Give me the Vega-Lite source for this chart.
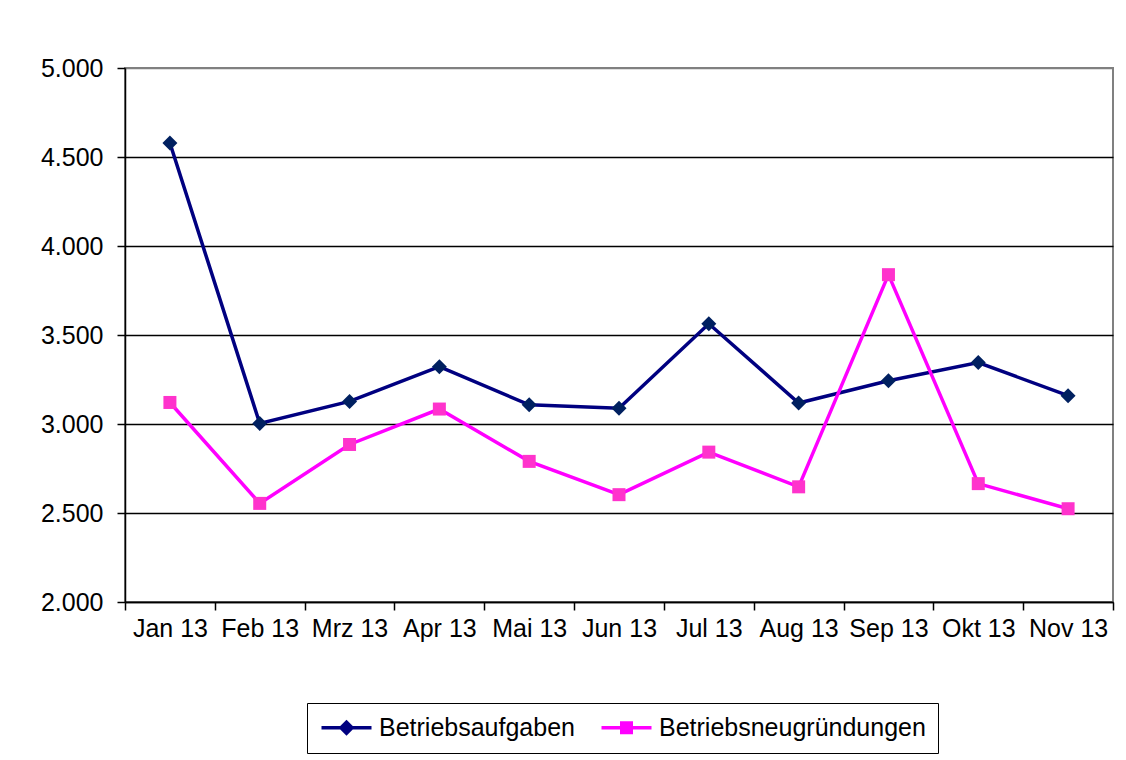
{
  "$schema": "https://vega.github.io/schema/vega-lite/v6.json",
  "width": 988,
  "height": 534,
  "autosize": {"type": "none"},
  "padding": {"left": 125, "top": 68, "right": 13, "bottom": 158},
  "background": "white",
  "config": {
    "font": "Liberation Sans",
    "view": {"stroke": "#808080", "strokeWidth": 2}
  },
  "data": {
    "values": [
      {"Monat": "Jan 13", "Serie": "Betriebsaufgaben", "Wert": 4579},
      {"Monat": "Feb 13", "Serie": "Betriebsaufgaben", "Wert": 3003},
      {"Monat": "Mrz 13", "Serie": "Betriebsaufgaben", "Wert": 3127},
      {"Monat": "Apr 13", "Serie": "Betriebsaufgaben", "Wert": 3322},
      {"Monat": "Mai 13", "Serie": "Betriebsaufgaben", "Wert": 3108},
      {"Monat": "Jun 13", "Serie": "Betriebsaufgaben", "Wert": 3088},
      {"Monat": "Jul 13", "Serie": "Betriebsaufgaben", "Wert": 3563},
      {"Monat": "Aug 13", "Serie": "Betriebsaufgaben", "Wert": 3118},
      {"Monat": "Sep 13", "Serie": "Betriebsaufgaben", "Wert": 3243},
      {"Monat": "Okt 13", "Serie": "Betriebsaufgaben", "Wert": 3345},
      {"Monat": "Nov 13", "Serie": "Betriebsaufgaben", "Wert": 3159},
      {"Monat": "Jan 13", "Serie": "Betriebsneugründungen", "Wert": 3121},
      {"Monat": "Feb 13", "Serie": "Betriebsneugründungen", "Wert": 2554},
      {"Monat": "Mrz 13", "Serie": "Betriebsneugründungen", "Wert": 2885},
      {"Monat": "Apr 13", "Serie": "Betriebsneugründungen", "Wert": 3084},
      {"Monat": "Mai 13", "Serie": "Betriebsneugründungen", "Wert": 2790},
      {"Monat": "Jun 13", "Serie": "Betriebsneugründungen", "Wert": 2603},
      {"Monat": "Jul 13", "Serie": "Betriebsneugründungen", "Wert": 2842},
      {"Monat": "Aug 13", "Serie": "Betriebsneugründungen", "Wert": 2647},
      {"Monat": "Sep 13", "Serie": "Betriebsneugründungen", "Wert": 3839},
      {"Monat": "Okt 13", "Serie": "Betriebsneugründungen", "Wert": 2665},
      {"Monat": "Nov 13", "Serie": "Betriebsneugründungen", "Wert": 2524}
    ]
  },
  "encoding": {
    "x": {
      "field": "Monat",
      "type": "nominal",
      "sort": null,
      "scale": {"type": "band", "paddingInner": 0, "paddingOuter": 0},
      "axis": {
        "title": null,
        "tickBand": "extent",
        "labelAngle": 0,
        "labelFontSize": 25,
        "labelColor": "black",
        "labelPadding": 6,
        "domainColor": "black",
        "domainWidth": 1.5,
        "tickColor": "black",
        "tickWidth": 1.5,
        "tickSize": 8,
        "grid": false
      }
    },
    "y": {
      "field": "Wert",
      "type": "quantitative",
      "scale": {"domain": [2000, 5000], "nice": false, "zero": false},
      "axis": {
        "title": null,
        "values": [2000, 2500, 3000, 3500, 4000, 4500, 5000],
        "labelExpr": "replace(format(datum.value, ','), ',', '.')",
        "labelFontSize": 25,
        "labelColor": "black",
        "labelPadding": 14,
        "domainColor": "black",
        "domainWidth": 1.5,
        "tickColor": "black",
        "tickWidth": 1.5,
        "tickSize": 8,
        "grid": true,
        "gridWidth": 1.5,
        "gridColor": {"condition": {"test": "datum.value === 5000", "value": "#808080"}, "value": "black"}
      }
    }
  },
  "layer": [
    {
      "mark": {"type": "line", "strokeWidth": 3.5},
      "encoding": {
        "stroke": {
          "field": "Serie",
          "type": "nominal",
          "scale": {"domain": ["Betriebsaufgaben", "Betriebsneugründungen"], "range": ["#000080", "#FF00FF"]},
          "legend": {
            "title": null,
            "orient": "none",
            "legendX": 182,
            "legendY": 635,
            "direction": "horizontal",
            "strokeColor": "black",
            "fillColor": "white",
            "padding": 12,
            "labelFontSize": 25,
            "labelColor": "black",
            "labelLimit": 0,
            "symbolSize": 400,
            "symbolOffset": 15,
            "columnPadding": 24,
            "labelOffset": 20,
            "encode": {
              "symbols": {
                "update": {
                  "shape": {"signal": "datum.value === 'Betriebsaufgaben' ? 'M-2.5,-0.17H2.5V0.17H-2.5Z M0,-0.8L0.8,0L0,0.8L-0.8,0Z' : 'M-2.5,-0.17H2.5V0.17H-2.5Z M-0.65,-0.65H0.65V0.65H-0.65Z'"},
                  "fill": {"signal": "datum.value === 'Betriebsaufgaben' ? '#000080' : '#FF00FF'"},
                  "stroke": {"value": "transparent"},
                  "strokeWidth": {"value": 0},
                  "opacity": {"value": 1}
                }
              }
            }
          }
        }
      }
    },
    {
      "transform": [{"filter": "datum.Serie === 'Betriebsaufgaben'"}],
      "mark": {"type": "point", "filled": true, "opacity": 1, "shape": "diamond", "size": 225, "color": "#002060"}
    },
    {
      "transform": [{"filter": "datum.Serie === 'Betriebsneugründungen'"}],
      "mark": {"type": "point", "filled": true, "opacity": 1, "shape": "square", "size": 169, "color": "#FF33CC"}
    }
  ]
}
